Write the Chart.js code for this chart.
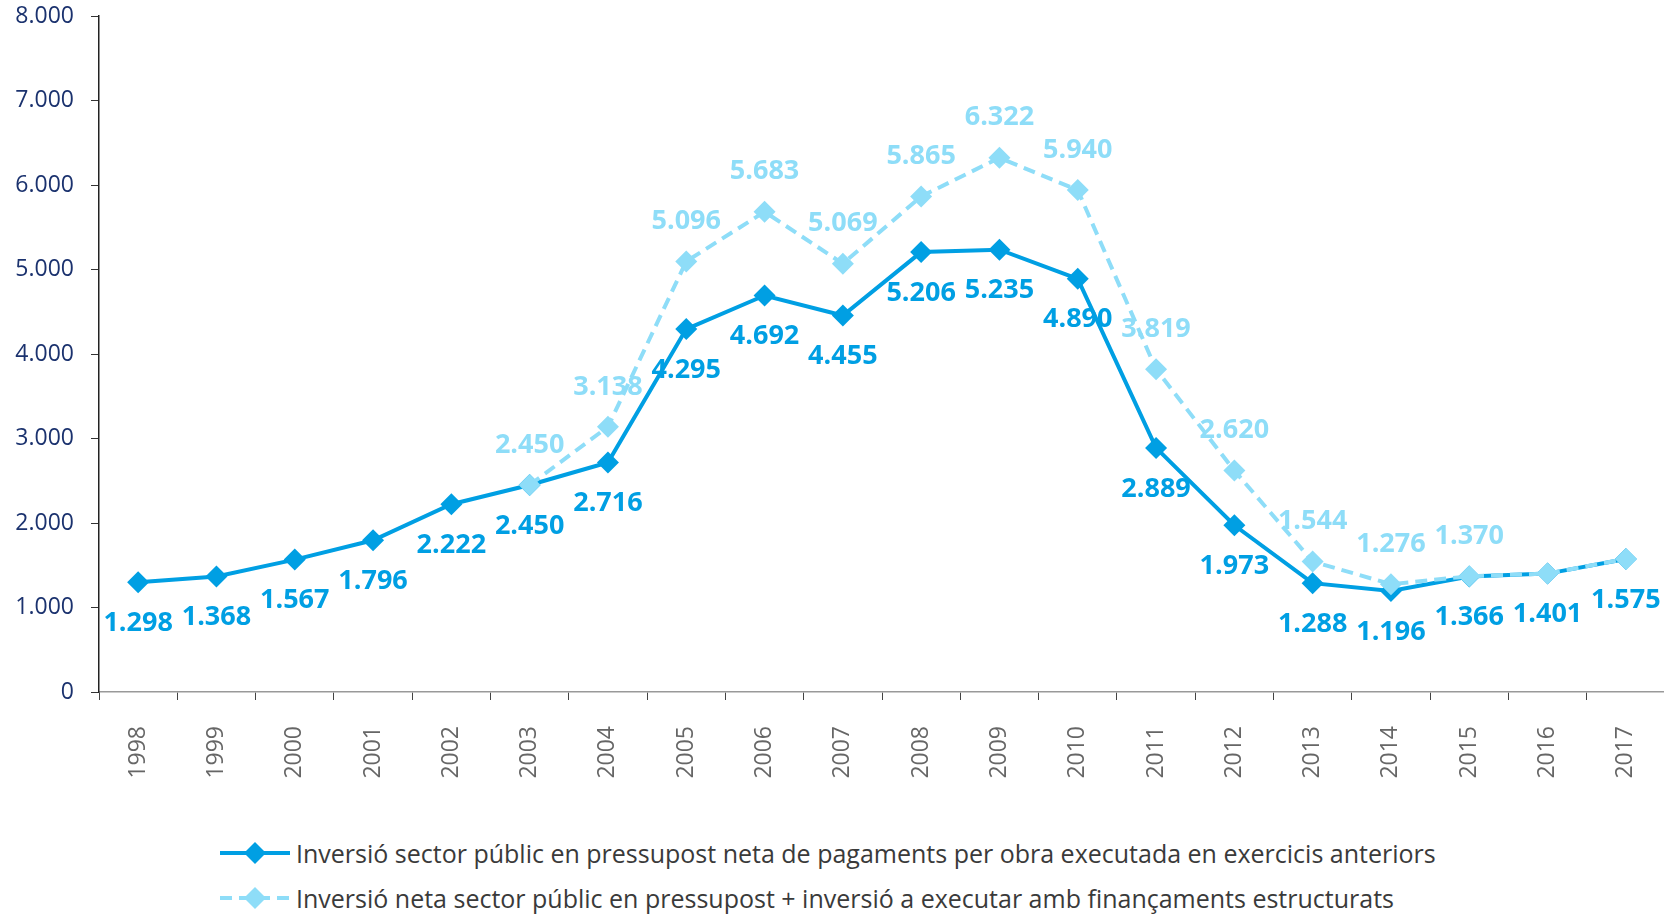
<!DOCTYPE html>
<html>
<head>
<meta charset="utf-8">
<script src="https://cdn.jsdelivr.net/npm/chart.js@4/dist/chart.umd.min.js"></script>
<style>
  body { margin: 0; background: #fff; overflow: hidden; }
  #wrap { position: relative; width: 1664px; height: 915px; overflow: hidden; }
  #grafic { position: absolute; left: 0; top: 0; }
  #llegenda { position: absolute; left: 220px; top: 830px; font-family: "Open Sans", sans-serif; font-size: 25px; color: #3a3a3a; }
  .item { display: flex; align-items: center; height: 45px; }
  .item svg { margin-right: 6px; }
</style>
</head>
<body>
<div id="wrap">
  <canvas id="grafic" width="1676" height="800"></canvas>
  <div id="llegenda"></div>
</div>
<script>
var anys = ["1998","1999","2000","2001","2002","2003","2004","2005","2006","2007","2008","2009","2010","2011","2012","2013","2014","2015","2016","2017"];
var inversioNeta = [1298,1368,1567,1796,2222,2450,2716,4295,4692,4455,5206,5235,4890,2889,1973,1288,1196,1366,1401,1575];
var inversioTotal = [null,null,null,null,null,2450,3138,5096,5683,5069,5865,6322,5940,3819,2620,1544,1276,1370,1401,1575];
var etiquetesOcultes = ["2016","2017"]; // sense etiqueta a la serie clara

var nomSerie1 = "Inversió sector públic en pressupost neta de pagaments per obra executada en exercicis anteriors";
var nomSerie2 = "Inversió neta sector públic en pressupost + inversió a executar amb finançaments estructurats";

var blau = "#009FE3";
var blauClar = "#8EDDF8";

function milers(v) {
  return String(v).replace(/\B(?=(\d{3})+(?!\d))/g, ".");
}

var etiquetes = {
  id: "etiquetes",
  beforeDatasetsDraw: function(chart) {
    var ctx = chart.ctx;
    ctx.save();
    ctx.font = "bold 27px 'Open Sans', sans-serif";
    ctx.textAlign = "center";
    ctx.textBaseline = "middle";
    chart.data.datasets.forEach(function(ds, i) {
      var meta = chart.getDatasetMeta(i);
      meta.data.forEach(function(pt, j) {
        var v = ds.data[j];
        if (v === null) return;
        if (i === 1 && etiquetesOcultes.indexOf(anys[j]) >= 0) return;
        ctx.fillStyle = i === 0 ? blau : blauClar;
        var dy = i === 0 ? 41 : -40;
        ctx.fillText(milers(v), pt.x, pt.y + dy);
      });
    });
    ctx.restore();
  }
};

new Chart("grafic", {
  type: "line",
  data: {
    labels: anys,
    datasets: [{
      label: nomSerie1,
      data: inversioNeta,
      borderColor: blau,
      backgroundColor: blau,
      borderWidth: 4,
      pointStyle: "rectRot",
      pointRadius: 11,
      pointBorderWidth: 0,
      tension: 0,
      order: 1
    }, {
      label: nomSerie2,
      data: inversioTotal,
      borderColor: blauClar,
      backgroundColor: blauClar,
      borderWidth: 4,
      borderDash: [12, 7],
      pointStyle: "rectRot",
      pointRadius: 11,
      pointBorderWidth: 0,
      tension: 0,
      spanGaps: false,
      order: 0
    }]
  },
  options: {
    responsive: false,
    animation: false,
    layout: { padding: { top: 16, right: 0, left: 0, bottom: 0 } },
    plugins: {
      legend: { display: false },
      tooltip: { enabled: false }
    },
    scales: {
      x: {
        offset: true,
        afterFit: function(s) { s.height = 108; s.paddingLeft = 0; s.paddingRight = 0; },
        grid: { offset: true, drawOnChartArea: false, tickLength: 8, tickColor: "#444", color: "#444" },
        border: { color: "#999", width: 1.5 },
        ticks: {
          minRotation: 90, maxRotation: 90, autoSkip: false, padding: 26,
          color: "#666", font: { family: "'Open Sans', sans-serif", size: 23 }
        }
      },
      y: {
        min: 0, max: 8000,
        afterFit: function(s) { s.width = 99; s.paddingTop = 0; s.paddingBottom = 0; },
        grid: { drawOnChartArea: false, tickLength: 8, tickColor: "#333" },
        border: { color: "#222", width: 1.5 },
        ticks: {
          stepSize: 1000, padding: 17,
          color: "#1b326e", font: { family: "'Open Sans', sans-serif", size: 23 },
          callback: function(v) { return milers(v); }
        }
      }
    }
  },
  plugins: [etiquetes]
});

function simbol(color, dashed) {
  var dash = dashed ? ' stroke-dasharray="12 7"' : '';
  return '<svg width="70" height="24" viewBox="0 0 70 24">' +
    '<line x1="0" y1="12" x2="70" y2="12" stroke="' + color + '" stroke-width="4"' + dash + '/>' +
    '<polygon points="35,1 46,12 35,23 24,12" fill="' + color + '"/></svg>';
}
document.getElementById("llegenda").innerHTML =
  '<div class="item">' + simbol(blau, false) + '<span>' + nomSerie1 + '</span></div>' +
  '<div class="item">' + simbol(blauClar, true) + '<span>' + nomSerie2 + '</span></div>';
</script>
</body>
</html>
